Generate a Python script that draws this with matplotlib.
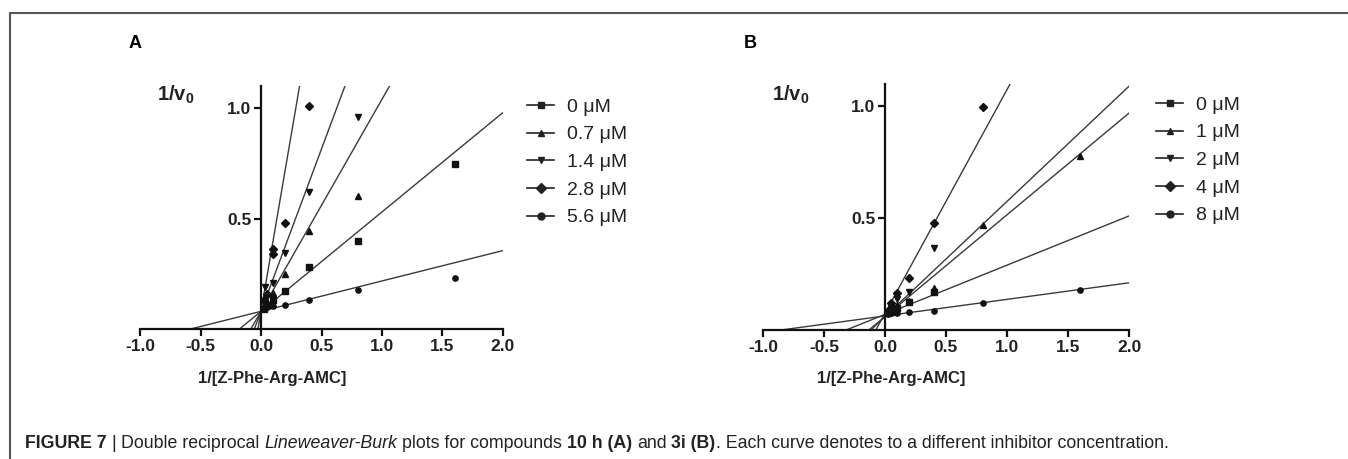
import matplotlib
matplotlib.use('Agg')
import matplotlib.pyplot as plt
from matplotlib.lines import Line2D

# ---------------- data ----------------
x_ticks = [-1.0, -0.5, 0.0, 0.5, 1.0, 1.5, 2.0]
y_ticks = [0.5, 1.0]
x_label = "1/[Z-Phe-Arg-AMC]"

markers = ['s', '^', 'v', 'D', 'o']

# Panel A (compound 10 h)
labels_A = ['0 \u03bcM', '0.7 \u03bcM', '1.4 \u03bcM', '2.8 \u03bcM', '5.6 \u03bcM']
xA_0 = [0.025, 0.05, 0.1, 0.2, 0.4, 0.8, 1.6]
yA_0 = [0.09, 0.11, 0.13, 0.17, 0.28, 0.40, 0.745]
xA_07 = [0.025, 0.05, 0.1, 0.2, 0.4, 0.8]
yA_07 = [0.10, 0.12, 0.165, 0.25, 0.445, 0.60]
xA_14 = [0.025, 0.035, 0.1, 0.2, 0.4, 0.8]
yA_14 = [0.12, 0.19, 0.21, 0.345, 0.62, 0.96]
xA_28 = [0.025, 0.05, 0.1, 0.1, 0.2, 0.4]
yA_28 = [0.13, 0.16, 0.36, 0.34, 0.48, 1.01]
xA_56 = [0.025, 0.05, 0.1, 0.2, 0.4, 0.8, 1.6]
yA_56 = [0.09, 0.10, 0.105, 0.11, 0.13, 0.177, 0.23]
slope_A = [0.45, 0.96, 1.47, 3.2, 0.1375]
icpt_A = [0.08, 0.08, 0.08, 0.08, 0.08]

# Panel B (compound 3i)
labels_B = ['0 \u03bcM', '1 \u03bcM', '2 \u03bcM', '4 \u03bcM', '8 \u03bcM']
xB_0 = [0.025, 0.05, 0.1, 0.2, 0.4]
yB_0 = [0.075, 0.08, 0.10, 0.125, 0.17]
xB_1 = [0.025, 0.05, 0.1, 0.2, 0.4, 0.8, 1.6]
yB_1 = [0.08, 0.09, 0.11, 0.13, 0.19, 0.47, 0.78]
xB_2 = [0.025, 0.05, 0.1, 0.2, 0.4]
yB_2 = [0.08, 0.10, 0.14, 0.17, 0.365]
xB_4 = [0.025, 0.05, 0.1, 0.2, 0.4, 0.8]
yB_4 = [0.085, 0.12, 0.165, 0.234, 0.477, 0.995]
xB_8 = [0.025, 0.05, 0.1, 0.2, 0.4, 0.8, 1.6]
yB_8 = [0.07, 0.075, 0.078, 0.08, 0.086, 0.12, 0.18]
slope_B = [0.22, 0.455, 0.515, 1.0, 0.074]
icpt_B = [0.07, 0.06, 0.06, 0.075, 0.063]

series_A = [(xA_0, yA_0), (xA_07, yA_07), (xA_14, yA_14), (xA_28, yA_28), (xA_56, yA_56)]
series_B = [(xB_0, yB_0), (xB_1, yB_1), (xB_2, yB_2), (xB_4, yB_4), (xB_8, yB_8)]

# ---------------- figure ----------------
W, H = 1348, 459
fig = plt.figure(figsize=(W / 100, H / 100), dpi=100)
plt.rcParams['font.family'] = ['Liberation Sans', 'DejaVu Sans']
plt.rcParams['mathtext.fontset'] = 'custom'
plt.rcParams['mathtext.rm'] = 'Liberation Sans'
plt.rcParams['mathtext.bf'] = 'Liberation Sans:bold'

def fx(px):
    return px / W

def fy(py):
    return 1 - py / H

LINE_C = '#3a3a3a'
PT_C = '#111111'


def panel(rect, series, slopes, icpts, labels, leg_xy, letter_xy, letter, v_xy, xlab_x):
    l, r, t, b = rect
    ax = fig.add_axes([fx(l), fy(b), (r - l) / W, (b - t) / H])
    for (xs, ys), m, s, c, lab in zip(series, markers, slopes, icpts, labels):
        x0 = -c / s
        ax.plot([x0, 2.0], [c + s * x0, c + s * 2.0], color=LINE_C, lw=1.0, zorder=2)
        ax.plot(xs, ys, linestyle='none', marker=m, ms=3.8, color=PT_C, zorder=3,
                clip_on=False)
    ax.set_xlim(-1.0, 2.0)
    ax.set_ylim(0, 1.1)
    ax.set_xticks(x_ticks)
    ax.set_xticklabels([f"{v:.1f}" for v in x_ticks])
    ax.set_yticks(y_ticks)
    ax.set_yticklabels([f"{v:.1f}" for v in y_ticks])
    for sp in ['top', 'right']:
        ax.spines[sp].set_visible(False)
    ax.spines['left'].set_position(('data', 0))
    ax.spines['bottom'].set_position(('data', 0))
    for sp in ['left', 'bottom']:
        ax.spines[sp].set_linewidth(1.6)
        ax.spines[sp].set_color('#111111')
    ax.tick_params(direction='out', length=5, width=1.6, color='#111111',
                   labelsize=12.5, pad=2)
    for tl in ax.get_xticklabels() + ax.get_yticklabels():
        tl.set_fontweight('bold')
        tl.set_color('#222222')
    ax.patch.set_alpha(0)

    handles = [Line2D([], [], color='#222222', lw=1.2, marker=m, ms=5.0)
               for m in markers]
    ax.legend(handles, labels, loc='upper left',
              bbox_to_anchor=(fx(leg_xy[0]), fy(leg_xy[1])),
              bbox_transform=fig.transFigure, frameon=False, fontsize=14,
              handlelength=1.4, handletextpad=0.65, labelspacing=0.52,
              borderpad=0, borderaxespad=0)
    for tx in ax.get_legend().get_texts():
        tx.set_color('#222222')

    fig.text(fx(letter_xy[0]), fy(letter_xy[1]), letter, fontsize=13,
             fontweight='bold', ha='center', va='center')
    fig.text(fx(v_xy[0]), fy(v_xy[1]), r"1/v$_\mathbf{0}$", fontsize=14.5,
             fontweight='bold', ha='center', va='center', color='#222222')
    fig.text(fx(xlab_x), fy(378), x_label, fontsize=12, fontweight='bold',
             ha='center', va='center', color='#222222')
    return ax


panel((140, 503, 86, 329), series_A, slope_A, icpt_A, labels_A,
      (527, 98), (135, 43), 'A', (176, 95), 272)
panel((763, 1129, 84, 330), series_B, slope_B, icpt_B, labels_B,
      (1156, 96), (750, 43), 'B', (791, 95), 891)

# frame around figure
fig.add_artist(Line2D([fx(10), fx(10), 1.0], [0.0, fy(13), fy(13)],
                      transform=fig.transFigure, color='#555555', lw=1.5))

# ---------------- caption ----------------
cap_font = 'Liberation Sans'
pieces = [("FIGURE 7", 'bold', 'normal'), ("|", 'normal', 'normal'),
          ("Double reciprocal", 'normal', 'normal'),
          ("Lineweaver-Burk", 'normal', 'italic'),
          ("plots for compounds", 'normal', 'normal'),
          ("10 h (A)", 'bold', 'normal'), ("and", 'normal', 'normal'),
          ("3i (B)", 'bold', 'normal'),
          (". Each curve denotes to a different inhibitor concentration.", 'normal', 'normal')]
gaps_after = [True, True, True, True, True, True, True, False, False]

renderer = fig.canvas.get_renderer()
cap_size = 12.8
probe1 = fig.text(0, 0, "x x", fontsize=cap_size, family=cap_font)
probe2 = fig.text(0, 0, "xx", fontsize=cap_size, family=cap_font)
space_w = probe1.get_window_extent(renderer).width - probe2.get_window_extent(renderer).width
probe1.remove()
probe2.remove()

xpos = 25.0
for (txt, wt, st), gap in zip(pieces, gaps_after):
    t = fig.text(fx(xpos), fy(448), txt, fontsize=cap_size, family=cap_font,
                 fontweight=wt, fontstyle=st, ha='left', va='baseline',
                 color='#222222')
    w = t.get_window_extent(renderer).width
    xpos += w + (space_w if gap else 0)

fig.savefig('out.png', dpi=100)
